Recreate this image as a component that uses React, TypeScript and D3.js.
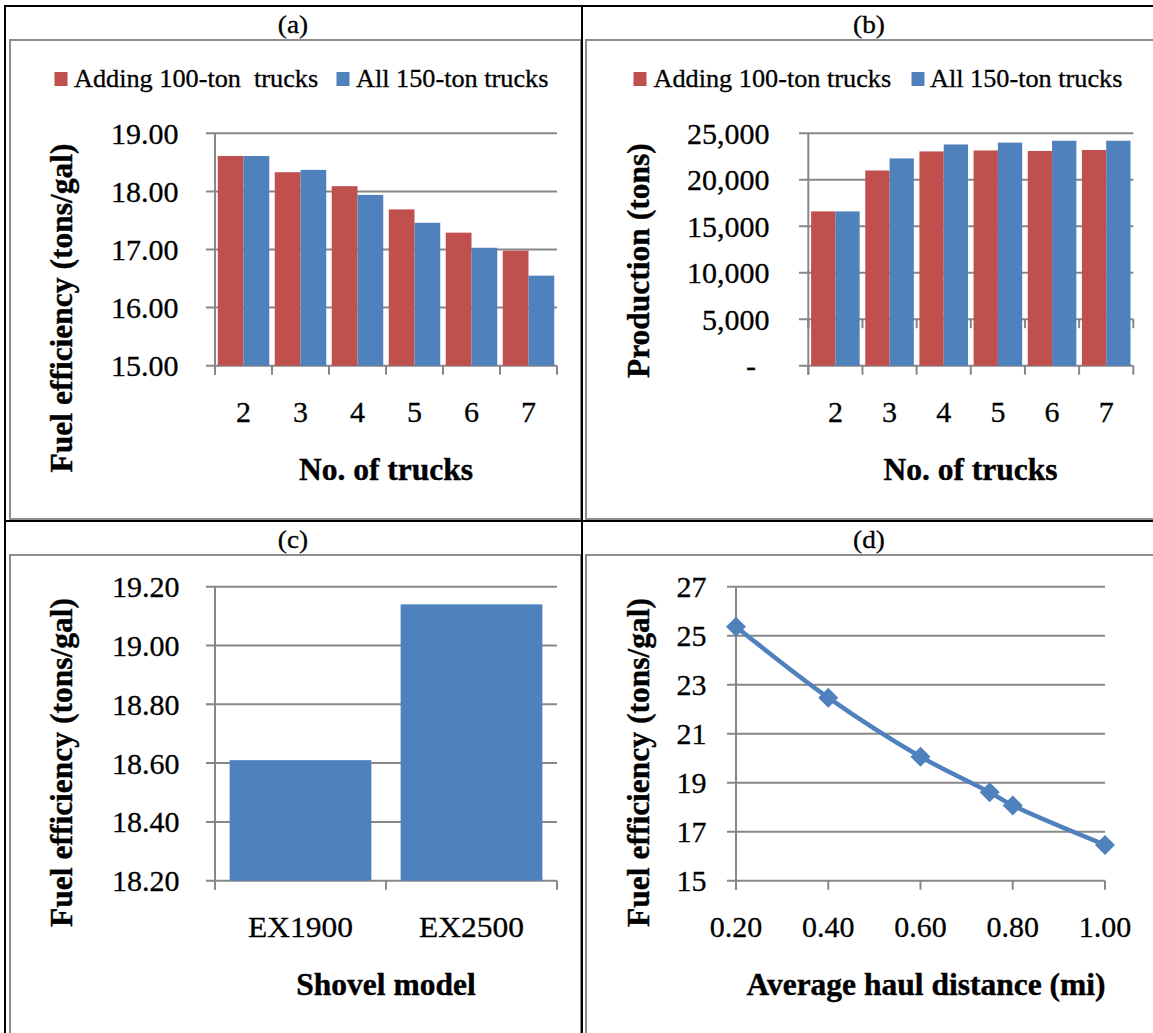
import React from "react";
import * as d3 from "d3";

// ---- data ----
const trucks = ["2", "3", "4", "5", "6", "7"];
const fuelAdding100 = [18.61, 18.33, 18.09, 17.69, 17.29, 16.98];
const fuelAll150 = [18.61, 18.37, 17.94, 17.46, 17.03, 16.55];
const prodAdding100 = [16600, 21000, 23050, 23150, 23100, 23200];
const prodAll150 = [16600, 22300, 23800, 24000, 24200, 24200];
const shovelModels = ["EX1900", "EX2500"];
const shovelFuel = [18.61, 19.14];
const haulDistance = [0.2, 0.4, 0.6, 0.75, 0.8, 1.0];
const haulFuel = [25.37, 22.47, 20.06, 18.61, 18.07, 16.46];

const seriesNames = ["Adding 100-ton  trucks", "All 150-ton trucks"];
const seriesNamesB = ["Adding 100-ton trucks", "All 150-ton trucks"];

const fuelTicksA = [15, 16, 17, 18, 19];
const prodTicks = [0, 5000, 10000, 15000, 20000, 25000];
const fuelTicksC = [18.2, 18.4, 18.6, 18.8, 19.0, 19.2];
const fuelTicksD = [15, 17, 19, 21, 23, 25, 27];
const distTicks = [0.2, 0.4, 0.6, 0.8, 1.0];

const RED = "#C0504D";
const BLUE = "#4F81BD";
const GRID = "#878787";
const FRAME = "#8e8e8e";
const FONT = "'Liberation Serif', 'Times New Roman', serif";
const TICK = 30;
const LEG = 25;
const PANEL = 26;
const TITLE = 31.5;

type TProps = {
  x: number;
  y: number;
  size: number;
  anchor?: "start" | "middle" | "end";
  bold?: boolean;
  rotate?: boolean;
  sx?: number;
  children: React.ReactNode;
};

function T({ x, y, size, anchor = "start", bold = false, rotate = false, sx = 1, children }: TProps) {
  const tf = rotate ? `translate(${x},${y}) rotate(-90)` : `translate(${x},${y}) scale(${sx},1)`;
  return (
    <text
      transform={tf}
      textAnchor={anchor}
      fontFamily={FONT}
      fontSize={size}
      fontWeight={bold ? "bold" : "normal"}
      fill="#000"
      stroke="#000"
      strokeWidth={bold ? 0.4 : 0.3}
      style={{ whiteSpace: "pre" }}
    >
      {children}
    </text>
  );
}

type GridProps = {
  y: d3.ScaleLinear<number, number>;
  ticks: number[];
  x0: number;
  x1: number;
  axisX: number;
  tickXs: number[];
  fmt: (v: number) => string;
  labelRight: number;
};

function YGridAxis({ y, ticks, x0, x1, axisX, tickXs, fmt, labelRight }: GridProps) {
  const bottom = y(ticks[0]);
  const top = y(ticks[ticks.length - 1]);
  return (
    <g>
      {ticks.map((t) => (
        <line key={"g" + t} x1={x0} x2={x1} y1={y(t)} y2={y(t)} stroke={GRID} strokeWidth={2} />
      ))}
      <line x1={axisX} x2={axisX} y1={top} y2={bottom + 9} stroke={GRID} strokeWidth={2} />
      {tickXs.map((tx, i) => (
        <line key={"t" + i} x1={tx} x2={tx} y1={bottom} y2={bottom + 9} stroke={GRID} strokeWidth={2} />
      ))}
      {ticks.map((t) => (
        <T key={"l" + t} x={labelRight} y={y(t) + 10.5} size={TICK} anchor="end">
          {fmt(t)}
        </T>
      ))}
    </g>
  );
}

function GroupedBars({
  cats,
  a,
  b,
  x0,
  x1,
  y,
  pad,
}: {
  cats: string[];
  a: number[];
  b: number[];
  x0: number;
  x1: number;
  y: d3.ScaleLinear<number, number>;
  pad: number;
}) {
  const x = d3.scaleBand<string>().domain(cats).range([x0, x1]).paddingInner(pad).paddingOuter(pad / 2);
  const sub = d3.scaleBand<string>().domain(["a", "b"]).range([0, x.bandwidth()]);
  const base = y.range()[0];
  return (
    <g>
      {cats.map((c, i) => (
        <g key={c}>
          <rect x={x(c)! + sub("a")!} y={y(a[i])} width={sub.bandwidth()} height={base - y(a[i])} fill={RED} />
          <rect x={x(c)! + sub("b")!} y={y(b[i])} width={sub.bandwidth()} height={base - y(b[i])} fill={BLUE} />
          <T x={x(c)! + x.bandwidth() / 2} y={422} size={TICK} anchor="middle">
            {c}
          </T>
        </g>
      ))}
    </g>
  );
}

function Legend({ names, sq, tx }: { names: string[]; sq: number[]; tx: number[] }) {
  const colors = [RED, BLUE];
  return (
    <g>
      {names.map((n, i) => (
        <g key={i}>
          <rect x={sq[i]} y={72} width={13} height={14} fill={colors[i]} />
          <T x={tx[i]} y={87} size={LEG} sx={1.05}>{n}</T>
        </g>
      ))}
    </g>
  );
}

function PanelA() {
  const L = 215, R = 557;
  const y = d3.scaleLinear().domain([15, 19]).range([365.7, 133.3]);
  const step = (R - L) / trucks.length;
  const tickXs = d3.range(trucks.length + 1).map((i) => L + i * step);
  return (
    <g>
      <T x={293} y={33} size={PANEL} anchor="middle" sx={1.05}>(a)</T>
      <Legend names={seriesNames} sq={[54.5, 336.5]} tx={[74, 356]} />
      <YGridAxis y={y} ticks={fuelTicksA} x0={206} x1={R} axisX={L} tickXs={tickXs} fmt={d3.format(".2f")} labelRight={178.5} />
      <GroupedBars cats={trucks} a={fuelAdding100} b={fuelAll150} x0={L} x1={R} y={y} pad={0.0965} />
      <T x={386} y={480} size={TITLE} anchor="middle" bold>No. of trucks</T>
      <T x={72} y={308} size={TITLE} anchor="middle" bold rotate>Fuel efficiency (tons/gal)</T>
    </g>
  );
}

function PanelB() {
  const L = 808.3, R = 1133.3;
  const y = d3.scaleLinear().domain([0, 25000]).range([365.7, 133.3]);
  const step = (R - L) / trucks.length;
  const tickXs = d3.range(trucks.length + 1).map((i) => L + i * step);
  const fmt = (v: number) => (v === 0 ? "-" : d3.format(",")(v));
  return (
    <g>
      <T x={869} y={33} size={PANEL} anchor="middle" sx={1.05}>(b)</T>
      <Legend names={seriesNamesB} sq={[633.5, 911.5]} tx={[653.5, 930]} />
      <YGridAxis y={y} ticks={prodTicks.slice(1)} x0={799} x1={R} axisX={L} tickXs={tickXs} fmt={fmt} labelRight={769.5} />
      {/* zero row: axis baseline and the dash label */}
      <line x1={799} x2={R} y1={y(0)} y2={y(0)} stroke={GRID} strokeWidth={2} />
      <line x1={L} x2={L} y1={y(5000)} y2={y(0) + 9} stroke={GRID} strokeWidth={2} />
      {tickXs.map((tx, i) => (
        <line key={i} x1={tx} x2={tx} y1={y(0)} y2={y(0) + 9} stroke={GRID} strokeWidth={2} />
      ))}
      <T x={756} y={y(0) + 10.5} size={TICK} anchor="end">{fmt(prodTicks[0])}</T>
      <GroupedBars cats={trucks} a={prodAdding100} b={prodAll150} x0={L} x1={R} y={y} pad={0.103} />
      <T x={970.5} y={480} size={TITLE} anchor="middle" bold>No. of trucks</T>
      <T x={649} y={260.7} size={TITLE} anchor="middle" bold rotate>Production (tons)</T>
    </g>
  );
}

function PanelC() {
  const L = 215, R = 557;
  const y = d3.scaleLinear().domain([18.2, 19.2]).range([880.7, 586.7]);
  const x = d3.scaleBand<string>().domain(shovelModels).range([L, R]).paddingInner(0.171).paddingOuter(0.0855);
  const step = (R - L) / shovelModels.length;
  const tickXs = d3.range(shovelModels.length + 1).map((i) => L + i * step);
  return (
    <g>
      <T x={293} y={548} size={PANEL} anchor="middle" sx={1.05}>(c)</T>
      <YGridAxis y={y} ticks={fuelTicksC} x0={206} x1={R} axisX={L} tickXs={tickXs} fmt={d3.format(".2f")} labelRight={179.5} />
      {shovelModels.map((m, i) => (
        <g key={m}>
          <rect x={x(m)!} y={y(shovelFuel[i])} width={x.bandwidth()} height={y(18.2) - y(shovelFuel[i])} fill={BLUE} />
          <T x={x(m)! + x.bandwidth() / 2} y={937} size={TICK} anchor="middle" sx={1.05}>{m}</T>
        </g>
      ))}
      <T x={386} y={995} size={TITLE} anchor="middle" bold>Shovel model</T>
      <T x={72} y={762.5} size={TITLE} anchor="middle" bold rotate>Fuel efficiency (tons/gal)</T>
    </g>
  );
}

function PanelD() {
  const x = d3.scaleLinear().domain([0.2, 1.0]).range([736, 1105]);
  const y = d3.scaleLinear().domain([15, 27]).range([880.7, 586.7]);
  const tickXs = distTicks.map((d) => x(d));
  const pts: [number, number][] = haulDistance.map((d, i) => [x(d), y(haulFuel[i])]);
  const line = d3.line().curve(d3.curveCatmullRom.alpha(0.5))(pts) || "";
  const r = 10;
  const diamond = `M0,${-r}L${r},0L0,${r}L${-r},0Z`;
  return (
    <g>
      <T x={869} y={548} size={PANEL} anchor="middle" sx={1.05}>(d)</T>
      <YGridAxis y={y} ticks={fuelTicksD} x0={727} x1={1105} axisX={736} tickXs={tickXs} fmt={d3.format("d")} labelRight={706.5} />
      {distTicks.map((d) => (
        <T key={d} x={x(d)} y={937} size={TICK} anchor="middle">{d3.format(".2f")(d)}</T>
      ))}
      <path d={line} fill="none" stroke={BLUE} strokeWidth={4.5} strokeLinejoin="round" />
      {pts.map(([px, py], i) => (
        <path key={i} d={diamond} transform={`translate(${px},${py})`} fill={BLUE} />
      ))}
      <T x={926} y={995} size={TITLE} anchor="middle" bold>Average haul distance (mi)</T>
      <T x={649} y={762.5} size={TITLE} anchor="middle" bold rotate>Fuel efficiency (tons/gal)</T>
    </g>
  );
}

export default function App() {
  const W = 1153, H = 1033;
  return (
    <div style={{ position: "absolute", left: 0, top: 0 }}>
      <svg width={W} height={H} viewBox={`0 0 ${W} ${H}`} style={{ display: "block", background: "#fff" }}>
        <rect width={W} height={H} fill="#fff" />
        {/* chart frames */}
        <rect x={10} y={40} width={571} height={479} fill="none" stroke={FRAME} strokeWidth={2} />
        <rect x={586} y={40} width={580} height={479} fill="none" stroke={FRAME} strokeWidth={2} />
        <rect x={10} y={555} width={571} height={500} fill="none" stroke={FRAME} strokeWidth={2} />
        <rect x={586} y={555} width={580} height={500} fill="none" stroke={FRAME} strokeWidth={2} />
        {/* table rules */}
        <line x1={4} x2={W} y1={6} y2={6} stroke="#000" strokeWidth={2.2} />
        <line x1={5} x2={5} y1={5} y2={H} stroke="#000" strokeWidth={2} />
        <line x1={582} x2={582} y1={5} y2={H} stroke="#000" strokeWidth={2} />
        <line x1={4} x2={W} y1={521} y2={521} stroke="#000" strokeWidth={2} />
        <PanelA />
        <PanelB />
        <PanelC />
        <PanelD />
      </svg>
    </div>
  );
}
